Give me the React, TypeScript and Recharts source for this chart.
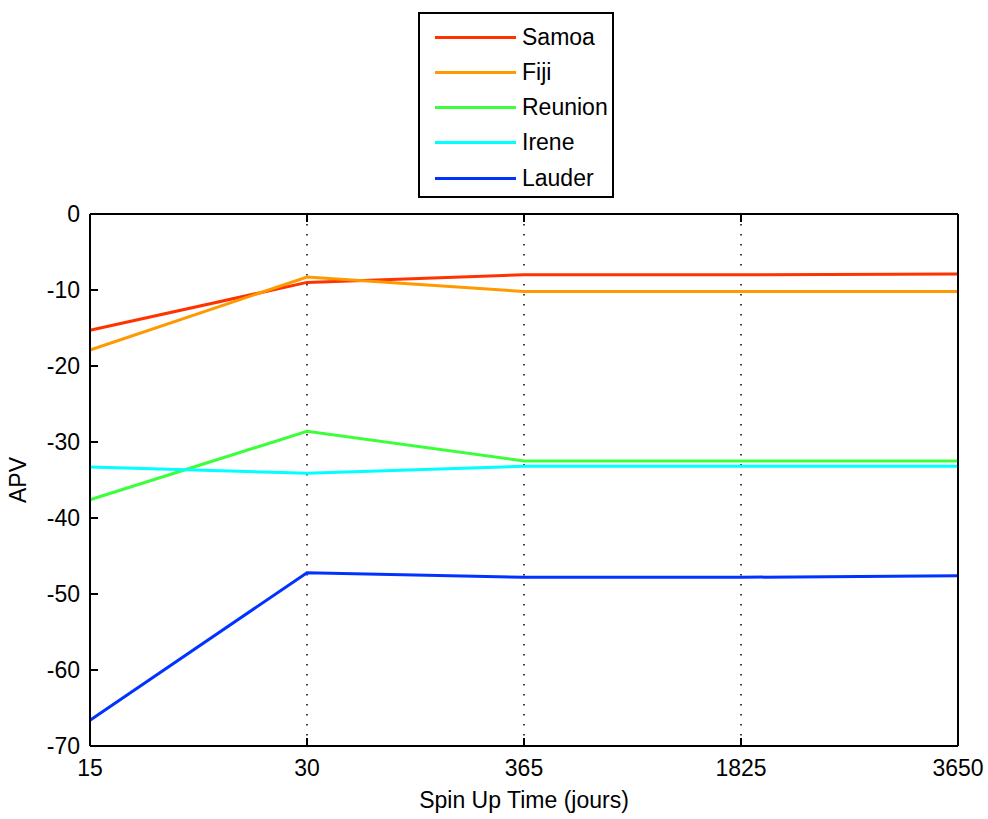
import React from 'react';
import { LineChart, Line, XAxis, YAxis, CartesianGrid } from 'recharts';

const categories = ['15', '30', '365', '1825', '3650'];
const yTicks = [0, -10, -20, -30, -40, -50, -60, -70];

const samoa = [-15.3, -9.0, -8.0, -8.0, -7.9];
const fiji = [-17.9, -8.3, -10.2, -10.2, -10.2];
const reunion = [-37.6, -28.6, -32.5, -32.5, -32.5];
const irene = [-33.3, -34.1, -33.2, -33.2, -33.2];
const lauder = [-66.6, -47.2, -47.8, -47.8, -47.6];

const SERIES = [
  { key: 'samoa', name: 'Samoa', values: samoa, color: '#ff3300' },
  { key: 'fiji', name: 'Fiji', values: fiji, color: '#ff9900' },
  { key: 'reunion', name: 'Reunion', values: reunion, color: '#3cff3c' },
  { key: 'irene', name: 'Irene', values: irene, color: '#00ffff' },
  { key: 'lauder', name: 'Lauder', values: lauder, color: '#0033ff' },
];

const data = categories.map((t, i) => {
  const row: any = { t };
  SERIES.forEach((s) => {
    row[s.key] = s.values[i];
  });
  return row;
});

const FONT = '"Liberation Sans", Arial, sans-serif';
const FS = 23;
const TICK = 8;

// ticks point into the plot, matlab style
const LeftTick = ({ x, y, payload }: any) => (
  <g>
    <line x1={x} x2={x + TICK} y1={y} y2={y} stroke="#000" strokeWidth={2} />
    <text x={x - 10} y={y} dy={8} textAnchor="end" fontFamily={FONT} fontSize={FS} fill="#000">
      {payload.value}
    </text>
  </g>
);

const RightTick = ({ x, y }: any) => (
  <line x1={x} x2={x - TICK} y1={y} y2={y} stroke="#000" strokeWidth={2} />
);

const BottomTick = ({ x, y, payload }: any) => (
  <g>
    <line x1={x} x2={x} y1={y} y2={y - TICK} stroke="#000" strokeWidth={2} />
    <text x={x} y={y + 30} textAnchor="middle" fontFamily={FONT} fontSize={FS} fill="#000">
      {payload.value}
    </text>
  </g>
);

const TopTick = ({ x, y }: any) => (
  <line x1={x} x2={x} y1={y} y2={y + TICK} stroke="#000" strokeWidth={2} />
);

export default function App() {
  return (
    <div style={{ position: 'absolute', left: 0, top: 0, width: 988, height: 819, background: '#fff' }}>
      <LineChart
        width={988}
        height={819}
        data={data}
        margin={{ top: 213, right: 29, left: 40, bottom: 33 }}
      >
        <CartesianGrid
          vertical
          horizontal={false}
          stroke="#000"
          strokeWidth={1.5}
          strokeDasharray="1.5 8.5"
        />
        <XAxis
          dataKey="t"
          height={40}
          axisLine={{ stroke: '#000', strokeWidth: 2 }}
          tickLine={false}
          tickSize={0}
          tickMargin={0}
          tick={<BottomTick />}
          interval={0}
          label={{
            value: 'Spin Up Time (jours)',
            position: 'insideBottom',
            offset: -22,
            fontFamily: FONT,
            fontSize: FS,
            fill: '#000',
          }}
        />
        <XAxis
          xAxisId="top"
          dataKey="t"
          orientation="top"
          height={1}
          axisLine={{ stroke: '#000', strokeWidth: 2 }}
          tickLine={false}
          tickSize={0}
          tickMargin={0}
          tick={<TopTick />}
          interval={0}
        />
        <YAxis
          width={50}
          domain={[-70, 0]}
          ticks={yTicks}
          interval={0}
          axisLine={{ stroke: '#000', strokeWidth: 2 }}
          tickLine={false}
          tickSize={0}
          tickMargin={0}
          tick={<LeftTick />}
          label={{
            value: 'APV',
            angle: -90,
            position: 'insideLeft',
            offset: -22,
            fontFamily: FONT,
            fontSize: FS,
            fill: '#000',
            style: { textAnchor: 'middle' },
          }}
        />
        <YAxis
          yAxisId="right"
          orientation="right"
          width={1}
          domain={[-70, 0]}
          ticks={yTicks}
          interval={0}
          axisLine={{ stroke: '#000', strokeWidth: 2 }}
          tickLine={false}
          tickSize={0}
          tickMargin={0}
          tick={<RightTick />}
        />
        {SERIES.map((s) => (
          <Line
            key={s.key}
            dataKey={s.key}
            name={s.name}
            stroke={s.color}
            strokeWidth={3}
            dot={false}
            type="linear"
            isAnimationActive={false}
          />
        ))}
      </LineChart>
      <div
        style={{
          position: 'absolute',
          left: 418,
          top: 12,
          width: 192,
          height: 182,
          border: '2px solid #000',
          background: '#fff',
          fontFamily: FONT,
          fontSize: FS,
        }}
      >
        {SERIES.map((s, i) => (
          <div
            key={s.key}
            style={{ position: 'absolute', left: 15, top: 8 + i * 35.3, height: 30, display: 'flex', alignItems: 'center' }}
          >
            <div style={{ width: 81, height: 3, background: s.color }} />
            <span style={{ marginLeft: 6, color: '#000' }}>{s.name}</span>
          </div>
        ))}
      </div>
    </div>
  );
}
